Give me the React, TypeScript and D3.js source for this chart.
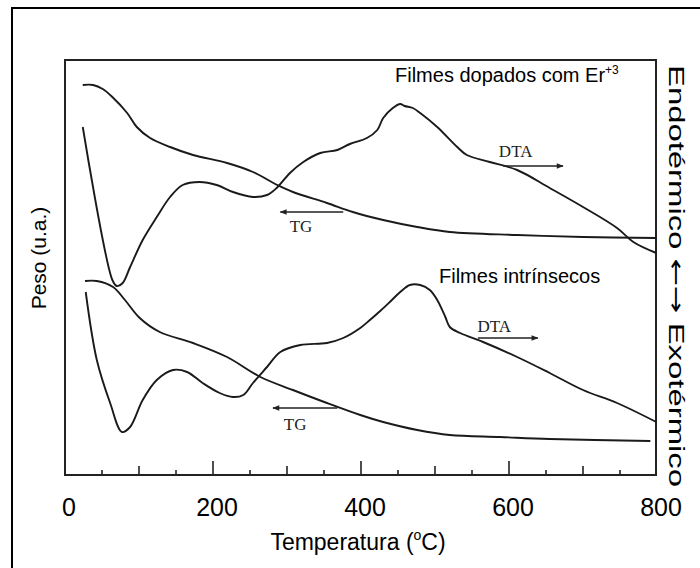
import React, { useEffect, useRef } from 'react';
import * as d3 from 'd3';

// temperature (oC) / weight (u.a.)
const tgDoped: [number, number][] = [
  [24, 39.0], [38, 39.0], [51, 38.6], [64, 37.8], [84, 36.2], [97, 34.8], [115, 33.7],
  [142, 32.8], [173, 32.0], [219, 31.2], [254, 30.3], [287, 29.0], [308, 28.3],
  [354, 27.2], [389, 26.3], [430, 25.5], [476, 24.8], [520, 24.3], [611, 24.0],
  [700, 23.8], [799, 23.7],
];

const dtaDoped: [number, number][] = [
  [24, 34.8], [64, 19.5], [70, 18.9], [78, 19.2], [88, 20.8], [105, 23.5], [124, 25.8],
  [142, 27.8], [159, 29.0], [182, 29.3], [205, 29.0], [227, 28.3], [254, 27.8],
  [273, 28.0], [286, 28.7], [304, 30.2], [322, 31.3], [345, 32.2], [368, 32.5],
  [385, 33.1], [408, 33.7], [422, 34.5], [430, 35.7], [443, 36.7], [453, 37.1],
  [459, 36.9], [470, 36.7], [480, 36.2], [503, 34.8], [530, 32.8], [543, 32.0],
  [574, 31.3], [611, 30.5], [655, 28.7], [700, 26.8], [746, 24.7], [768, 23.3],
  [799, 22.2],
];

const tgIntrinsic: [number, number][] = [
  [27, 19.4], [43, 19.4], [65, 18.8], [81, 17.5], [101, 15.7], [128, 14.3], [173, 13.2],
  [219, 11.8], [264, 9.8], [308, 8.5], [354, 7.2], [399, 6.0], [430, 5.3], [476, 4.5],
  [520, 4.0], [588, 3.8], [655, 3.6], [791, 3.4],
];

const dtaIntrinsic: [number, number][] = [
  [28, 18.3], [43, 11.5], [61, 7.2], [77, 4.3], [88, 4.8], [105, 7.5], [124, 9.5],
  [146, 10.5], [165, 10.3], [186, 9.2], [209, 8.2], [227, 7.8], [241, 8.0], [254, 9.2],
  [273, 10.8], [291, 12.3], [318, 13.0], [354, 13.2], [376, 13.7], [399, 14.7],
  [412, 15.5], [426, 16.4], [439, 17.3], [453, 18.3], [466, 19.0], [480, 19.0],
  [493, 18.5], [503, 17.5], [514, 15.8], [520, 14.8], [534, 14.2], [565, 13.3],
  [611, 11.8], [655, 10.2], [700, 8.5], [746, 7.2], [799, 5.3],
];

const tickLabels = [0, 200, 400, 600, 800];
const minorTicks = d3.range(50, 800, 50);

// arrow labels: text, arrow from/to (oC), arrow level, text position
const arrowNotes = [
  { text: 'DTA', from: 592, to: 673, y: 30.9, tx: 609, ty: 31.8 },
  { text: 'TG', from: 376, to: 291, y: 26.3, tx: 319, ty: 24.3 },
  { text: 'DTA', from: 558, to: 639, y: 13.7, tx: 580, ty: 14.3 },
  { text: 'TG', from: 368, to: 281, y: 6.7, tx: 311, ty: 4.5 },
];

const W = 700;
const H = 568;
const PLOT = { left: 65, right: 656, top: 60, bottom: 475 };

const App: React.FC = () => {
  const svgRef = useRef<SVGSVGElement>(null);

  useEffect(() => {
    if (!svgRef.current) return;
    const svg = d3.select(svgRef.current);
    svg.selectAll('*').remove();

    const x = d3.scaleLinear().domain([0, 800]).range([65, 657]);
    const y = d3.scaleLinear().domain([0, 41.5]).range([PLOT.bottom, PLOT.top]);

    svg.append('rect').attr('width', W).attr('height', H).attr('fill', '#fff');

    // outer frame
    svg.append('rect')
      .attr('x', 12).attr('y', 8)
      .attr('width', W).attr('height', H)
      .attr('fill', 'none').attr('stroke', '#000').attr('stroke-width', 2);

    const defs = svg.append('defs');
    defs.append('marker')
      .attr('id', 'head')
      .attr('viewBox', '0 0 10 10')
      .attr('refX', 9).attr('refY', 5)
      .attr('markerWidth', 7).attr('markerHeight', 5)
      .attr('orient', 'auto')
      .append('path')
      .attr('d', 'M0,1 L10,5 L0,9 Z')
      .attr('fill', '#222');

    // plot frame
    svg.append('rect')
      .attr('x', PLOT.left).attr('y', PLOT.top)
      .attr('width', PLOT.right - PLOT.left).attr('height', PLOT.bottom - PLOT.top)
      .attr('fill', 'none').attr('stroke', '#222').attr('stroke-width', 2);

    // inward ticks
    svg.append('g').selectAll('line')
      .data(minorTicks)
      .join('line')
      .attr('x1', d => x(d)).attr('x2', d => x(d))
      .attr('y1', PLOT.bottom)
      .attr('y2', d => PLOT.bottom - (d % 200 === 0 ? 14 : d % 100 === 0 ? 9 : 5))
      .attr('stroke', '#222').attr('stroke-width', 1.6);

    const line = d3.line<[number, number]>()
      .x(d => x(d[0]))
      .y(d => y(d[1]))
      .curve(d3.curveCatmullRom.alpha(0.5));

    [tgDoped, dtaDoped, tgIntrinsic, dtaIntrinsic].forEach(s => {
      svg.append('path')
        .attr('d', line(s))
        .attr('fill', 'none')
        .attr('stroke', '#1a1a1a')
        .attr('stroke-width', 1.9)
        .attr('stroke-linejoin', 'round');
    });

    arrowNotes.forEach(a => {
      svg.append('line')
        .attr('x1', x(a.from)).attr('x2', x(a.to))
        .attr('y1', y(a.y)).attr('y2', y(a.y))
        .attr('stroke', '#222').attr('stroke-width', 1.4)
        .attr('marker-end', 'url(#head)');
      svg.append('text')
        .attr('x', x(a.tx)).attr('y', y(a.ty))
        .attr('text-anchor', 'middle')
        .attr('font-family', '"Liberation Serif", "Times New Roman", serif')
        .attr('font-size', 17)
        .attr('fill', '#222')
        .text(a.text);
    });

    const sans = 'Arial, "Liberation Sans", sans-serif';

    const t1 = svg.append('text')
      .attr('x', 395).attr('y', 82)
      .attr('font-family', sans).attr('font-size', 20).attr('fill', '#000');
    t1.append('tspan').text('Filmes dopados com Er');
    t1.append('tspan').attr('font-size', 12).attr('dy', -8).text('+3');

    svg.append('text')
      .attr('x', 439).attr('y', 283)
      .attr('font-family', sans).attr('font-size', 20).attr('fill', '#000')
      .text('Filmes intrínsecos');

    svg.append('g').selectAll('text')
      .data(tickLabels)
      .join('text')
      .attr('x', d => x(d) + 4)
      .attr('y', 516)
      .attr('text-anchor', 'middle')
      .attr('font-family', sans).attr('font-size', 25)
      .text(d => d);

    const xt = svg.append('text')
      .attr('x', 358).attr('y', 550)
      .attr('text-anchor', 'middle')
      .attr('font-family', sans).attr('font-size', 23);
    xt.append('tspan').text('Temperatura (');
    xt.append('tspan').attr('font-size', 14).attr('dy', -10).text('o');
    xt.append('tspan').attr('dy', 10).text('C)');

    svg.append('text')
      .attr('transform', 'translate(46,258) rotate(-90)')
      .attr('text-anchor', 'middle')
      .attr('font-family', sans).attr('font-size', 21)
      .text('Peso (u.a.)');

    const rt = svg.append('text')
      .attr('transform', 'translate(669,276) rotate(90)')
      .attr('text-anchor', 'middle')
      .attr('textLength', 422)
      .attr('lengthAdjust', 'spacingAndGlyphs')
      .attr('font-family', sans).attr('font-size', 22);
    rt.append('tspan').text('Endotérmico ');
    rt.append('tspan').attr('font-family', '"DejaVu Sans", sans-serif').text('←→');
    rt.append('tspan').text(' Exotérmico');
  }, []);

  return (
    <svg
      ref={svgRef}
      width={W}
      height={H}
      style={{ position: 'absolute', left: 0, top: 0, display: 'block' }}
    />
  );
};

export default App;
